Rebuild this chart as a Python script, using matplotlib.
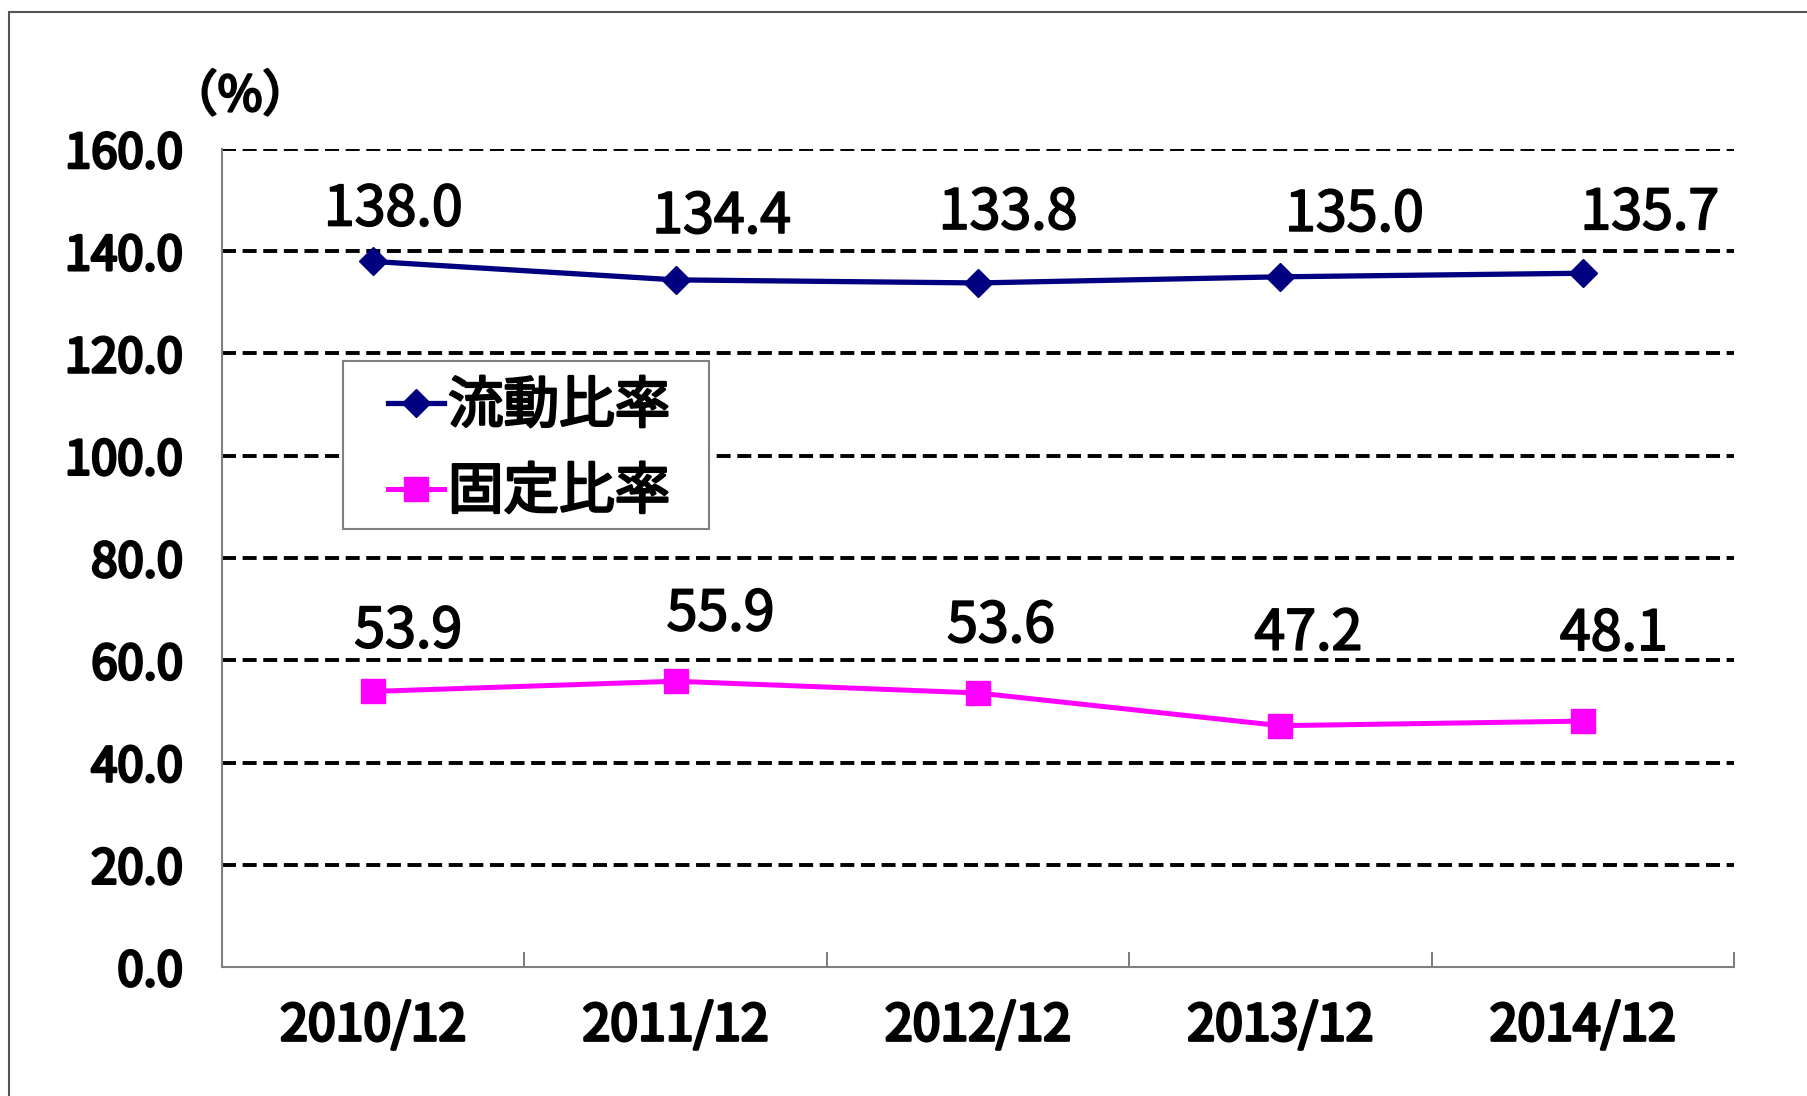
import matplotlib
matplotlib.use("Agg")
import matplotlib.pyplot as plt
import matplotlib.patheffects as pe
from matplotlib.patches import Rectangle
from matplotlib.ticker import FixedLocator, FormatStrFormatter

plt.rcParams['font.family'] = ['Noto Sans CJK JP', 'DejaVu Sans']

# data
periods = ['2010/12', '2011/12', '2012/12', '2013/12', '2014/12']
current_ratio = [138.0, 134.4, 133.8, 135.0, 135.7]
fixed_ratio = [53.9, 55.9, 53.6, 47.2, 48.1]
series_names = ['流動比率', '固定比率']

# label offsets in pixels (dx, dy to baseline), hand placed like the original
current_offsets = [(20, 36), (46, 47), (30, 54), (74, 46), (67, 44)]
fixed_offsets = [(35, 44), (45, 51), (23, 51), (28, 76), (31, 71)]

W, H = 1807, 1096
fig = plt.figure(figsize=(W / 100, H / 100), dpi=100)
fig.patch.set_facecolor('white')

# a bit heavier than regular, like the original font
heavy = [pe.withStroke(linewidth=1.3, foreground='black')]

# outer frame (runs off the right/bottom edge)
fig.patches.append(Rectangle((9 / W, -0.05), 1.2, 1 - 12 / H + 0.05,
                             transform=fig.transFigure, fill=False,
                             edgecolor='#555555', linewidth=1.5))

ax = fig.add_axes([222 / W, 1 - 967 / H, (1734 - 222) / W, (967 - 149) / H])
x = list(range(len(periods)))

for v in range(20, 161, 20):
    ax.axhline(v, color='black', lw=2.8, dashes=(3.6, 1.7), zorder=1)

ax.plot(x, current_ratio, color='#000080', lw=3.8, marker='D', markersize=14,
        label=series_names[0], zorder=3)
ax.plot(x, fixed_ratio, color='#FF00FF', lw=3.6, marker='s', markersize=17,
        label=series_names[1], zorder=3)

for i, v in enumerate(current_ratio):
    ax.annotate(f'{v:.1f}', (i, v), xytext=current_offsets[i], textcoords='offset pixels',
                ha='center', va='baseline', fontsize=40, path_effects=heavy)
for i, v in enumerate(fixed_ratio):
    ax.annotate(f'{v:.1f}', (i, v), xytext=fixed_offsets[i], textcoords='offset pixels',
                ha='center', va='baseline', fontsize=40, path_effects=heavy)

ax.set_xlim(-0.5, len(periods) - 0.5)
ax.set_ylim(0, 160)
ax.yaxis.set_major_locator(FixedLocator(range(0, 161, 20)))
ax.yaxis.set_major_formatter(FormatStrFormatter('%.1f'))
ax.set_xticks(x)
ax.set_xticklabels(periods)
ax.xaxis.set_minor_locator(FixedLocator([i + 0.5 for i in x]))
ax.tick_params(axis='x', which='major', length=0, pad=24, labelsize=36)
ax.tick_params(axis='x', which='minor', direction='in', length=11, width=1.2, color='#666666')
ax.tick_params(axis='y', length=0, pad=28, labelsize=34)
for lbl in ax.get_xticklabels() + ax.get_yticklabels():
    lbl.set_path_effects([pe.withStroke(linewidth=2.2, foreground='black')])

for s in ['top', 'right']:
    ax.spines[s].set_visible(False)
for s in ['left', 'bottom']:
    ax.spines[s].set_color('#808080')
    ax.spines[s].set_linewidth(1.5)

fig.text(240 / W, 1 - 97 / H, '（%）', ha='center', va='center', fontsize=35,
         path_effects=[pe.withStroke(linewidth=1.8, foreground='black')])

# legend frame drawn by hand, legend entries placed inside it
ax.add_patch(Rectangle((343 / W, 1 - 529 / H), (709 - 343) / W, (529 - 361) / H,
                       transform=fig.transFigure, facecolor='white',
                       edgecolor='#808080', linewidth=1.5, zorder=4, clip_on=False))
leg = ax.legend(loc='upper left', bbox_to_anchor=(388 / W, 1 - 378 / H),
                bbox_transform=fig.transFigure, borderaxespad=0, borderpad=0,
                handlelength=1.0, handletextpad=0.08, labelspacing=0.51,
                frameon=False, prop={'size': 40})
leg.set_zorder(5)
for t in leg.get_texts():
    t.set_path_effects([pe.withStroke(linewidth=1.8, foreground='black')])

fig.savefig('out.png', dpi=100)
